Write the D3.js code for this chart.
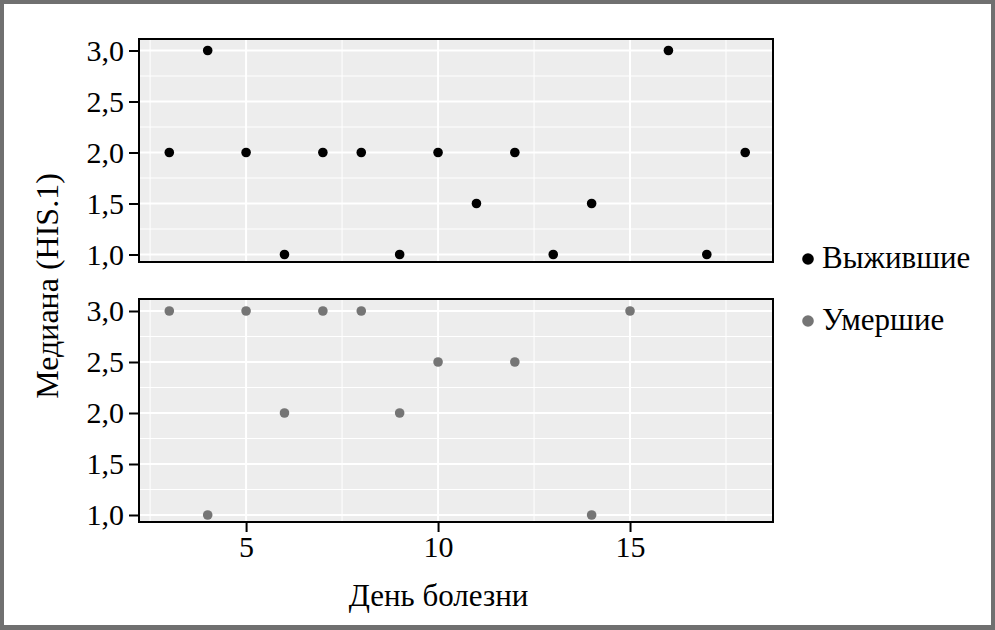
<!DOCTYPE html>
<html lang="ru">
<head>
    <meta charset="UTF-8">
    <title>Медиана HIS.1</title>
    <script src="https://cdn.jsdelivr.net/npm/d3@7/dist/d3.min.js"></script>
    <style>
        body { margin: 0; background: #ffffff; }
        svg text { font-family: "Liberation Serif", "Times New Roman", Times, serif; }
    </style>
</head>
<body>
<div id="container"></div>
<script>

    // data
    const survivedDays = [3, 4, 5, 6, 7, 8, 9, 10, 11, 12, 13, 14, 16, 17, 18];
    const survivedMedian = [2, 3, 2, 1, 2, 2, 1, 2, 1.5, 2, 1, 1.5, 3, 1, 2];
    const diedDays = [3, 4, 5, 6, 7, 8, 9, 10, 12, 14, 15];
    const diedMedian = [3, 1, 3, 2, 3, 3, 2, 2.5, 2.5, 1, 3];

    const groups = ["Выжившие", "Умершие"];
    const groupColors = ["#000000", "#757575"];
    const xTicks = [5, 10, 15];
    const xMinor = [2.5, 7.5, 12.5, 17.5];
    const yTicks = [1, 1.5, 2, 2.5, 3];
    const yMinor = [1.25, 1.75, 2.25, 2.75];

    const W = 995, H = 630;

    let svg = d3.select("#container")
        .append("svg")
        .attr("width", W)
        .attr("height", H);

    // grey frame round the picture
    svg.append("rect").attr("width", W).attr("height", H).attr("fill", "#707070");
    svg.append("rect").attr("x", 4).attr("y", 4).attr("width", 987).attr("height", 621).attr("fill", "#ffffff");

    let x = d3.scaleLinear().domain([2.25, 18.75]).range([140.5, 774]);
    let left = 139, right = 773;

    const panels = [
        {top: 39, bottom: 262, y3: 50.5, y1: 254.5, days: survivedDays, vals: survivedMedian, color: groupColors[0]},
        {top: 299, bottom: 522, y3: 311, y1: 515, days: diedDays, vals: diedMedian, color: groupColors[1]}
    ];

    const fmt = d => d3.format(".1f")(d).replace(".", ",");

    panels.forEach((p, i) => {
        let y = d3.scaleLinear().domain([1, 3]).range([p.y1, p.y3]);
        let g = svg.append("g");

        g.append("rect")
            .attr("x", left).attr("y", p.top)
            .attr("width", right - left)
            .attr("height", p.bottom - p.top)
            .attr("fill", "#ededed");

        // minor grid
        g.selectAll(".xminor").data(xMinor).enter().append("line")
            .attr("x1", d => x(d)).attr("x2", d => x(d))
            .attr("y1", p.top).attr("y2", p.bottom)
            .attr("stroke", "#ffffff").attr("stroke-width", 1);
        g.selectAll(".yminor").data(yMinor).enter().append("line")
            .attr("x1", left).attr("x2", right)
            .attr("y1", d => y(d)).attr("y2", d => y(d))
            .attr("stroke", "#ffffff").attr("stroke-width", 1);
        // major grid
        g.selectAll(".xmajor").data(xTicks).enter().append("line")
            .attr("x1", d => x(d)).attr("x2", d => x(d))
            .attr("y1", p.top).attr("y2", p.bottom)
            .attr("stroke", "#ffffff").attr("stroke-width", 2);
        g.selectAll(".ymajor").data(yTicks).enter().append("line")
            .attr("x1", left).attr("x2", right)
            .attr("y1", d => y(d)).attr("y2", d => y(d))
            .attr("stroke", "#ffffff").attr("stroke-width", 2);

        // points
        g.selectAll("circle").data(p.days).enter().append("circle")
            .attr("cx", d => x(d))
            .attr("cy", (d, j) => y(p.vals[j]))
            .attr("r", 4.8)
            .attr("fill", p.color);

        // panel border
        g.append("rect")
            .attr("x", left).attr("y", p.top)
            .attr("width", right - left)
            .attr("height", p.bottom - p.top)
            .attr("fill", "none")
            .attr("stroke", "#000000")
            .attr("stroke-width", 2);

        // y axis
        let ya = svg.append("g")
            .attr("transform", "translate(" + left + ",0)")
            .call(d3.axisLeft(y).tickValues(yTicks).tickFormat(fmt).tickSize(10).tickPadding(5));
        ya.select(".domain").remove();
        ya.selectAll("line").attr("stroke", "#000000").attr("stroke-width", 2);
        ya.selectAll("text").attr("font-size", 30).attr("fill", "#000000");

        if (i === 1) {
            let xa = svg.append("g")
                .attr("transform", "translate(0," + p.bottom + ")")
                .call(d3.axisBottom(x).tickValues(xTicks).tickSize(10).tickPadding(4));
            xa.select(".domain").remove();
            xa.selectAll("line").attr("stroke", "#000000").attr("stroke-width", 2);
            xa.selectAll("text").attr("font-size", 30).attr("fill", "#000000");
        }
    });

    // axis titles
    svg.append("text")
        .attr("x", 438.5).attr("y", 606)
        .attr("text-anchor", "middle")
        .attr("font-size", 31)
        .text("День болезни");

    svg.append("text")
        .attr("transform", "translate(58,286) rotate(-90)")
        .attr("text-anchor", "middle")
        .attr("font-size", 32)
        .text("Медиана (HIS.1)");

    // legend
    const legendY = [259, 321];
    groups.forEach((name, i) => {
        svg.append("circle")
            .attr("cx", 808).attr("cy", legendY[i])
            .attr("r", 5.8)
            .attr("fill", groupColors[i]);
        svg.append("text")
            .attr("x", 822).attr("y", legendY[i] + 9)
            .attr("font-size", 31)
            .text(name);
    });

</script>
</body>
</html>
